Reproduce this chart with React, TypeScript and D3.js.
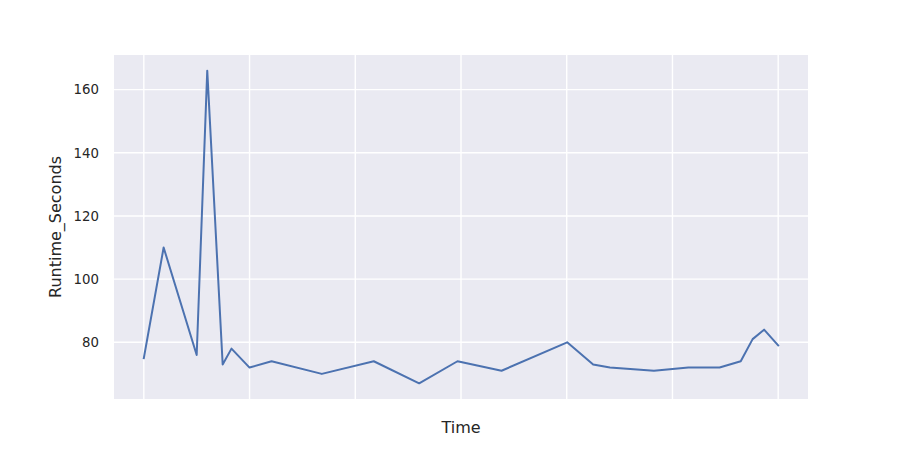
import { useEffect, useRef } from "react";
import * as d3 from "d3";

// hours since start of the run
const times = [
  0, 4.5, 12, 14.4, 17.9, 19.9, 24, 29, 40.4, 52.2, 62.5, 71.2, 81.2, 96.1,
  102, 105.8, 115.8, 123.6, 130.7, 135.5, 138.2, 140.8, 144,
];
const runtimes = [
  75, 110, 76, 166, 73, 78, 72, 74, 70, 74, 67, 74, 71, 80, 73, 72, 71, 72, 72,
  74, 81, 84, 79,
];
const xGridTicks = [0, 24, 48, 72, 96, 120, 144];
const yTicks = [80, 100, 120, 140, 160];

export default function App() {
  const ref = useRef<SVGSVGElement>(null);

  useEffect(() => {
    if (!ref.current) return;
    const svg = d3.select(ref.current);
    svg.selectAll("*").remove();

    const left = 114;
    const right = 808;
    const top = 55;
    const bottom = 399;

    const xExt = d3.extent(times) as [number, number];
    const xPad = (xExt[1] - xExt[0]) * 0.047;
    const yExt = d3.extent(runtimes) as [number, number];
    const yPad = (yExt[1] - yExt[0]) * 0.05;

    const x = d3
      .scaleLinear()
      .domain([xExt[0] - xPad, xExt[1] + xPad])
      .range([left, right]);
    const y = d3
      .scaleLinear()
      .domain([yExt[0] - yPad, yExt[1] + yPad])
      .range([bottom, top]);

    svg
      .append("rect")
      .attr("width", 900)
      .attr("height", 450)
      .attr("fill", "#ffffff");

    // plot background
    svg
      .append("rect")
      .attr("x", left)
      .attr("y", top)
      .attr("width", right - left)
      .attr("height", bottom - top)
      .attr("fill", "#EAEAF2");

    // grid
    svg
      .selectAll(".vgrid")
      .data(xGridTicks)
      .enter()
      .append("line")
      .attr("x1", (d) => x(d))
      .attr("x2", (d) => x(d))
      .attr("y1", top)
      .attr("y2", bottom)
      .attr("stroke", "#ffffff")
      .attr("stroke-width", 1.4);

    svg
      .selectAll(".hgrid")
      .data(yTicks)
      .enter()
      .append("line")
      .attr("x1", left)
      .attr("x2", right)
      .attr("y1", (d) => y(d))
      .attr("y2", (d) => y(d))
      .attr("stroke", "#ffffff")
      .attr("stroke-width", 1.4);

    // y tick labels
    svg
      .selectAll(".ylab")
      .data(yTicks)
      .enter()
      .append("text")
      .attr("x", left - 15)
      .attr("y", (d) => y(d))
      .attr("dy", "0.36em")
      .attr("text-anchor", "end")
      .style("font-family", "DejaVu Sans")
      .style("font-size", "13.3px")
      .style("fill", "#262626")
      .text((d) => d);

    // line
    const line = d3
      .line<number>()
      .x((_, i) => x(times[i]))
      .y((d) => y(d));

    svg
      .append("path")
      .datum(runtimes)
      .attr("d", line)
      .attr("fill", "none")
      .attr("stroke", "#4C72B0")
      .attr("stroke-width", 2)
      .attr("stroke-linejoin", "round")
      .attr("stroke-linecap", "square");

    // axis labels
    svg
      .append("text")
      .attr("x", (left + right) / 2)
      .attr("y", 433)
      .attr("text-anchor", "middle")
      .style("font-family", "DejaVu Sans")
      .style("font-size", "16px")
      .style("fill", "#262626")
      .text("Time");

    svg
      .append("text")
      .attr("transform", `translate(61,${(top + bottom) / 2}) rotate(-90)`)
      .attr("text-anchor", "middle")
      .style("font-family", "DejaVu Sans")
      .style("font-size", "16px")
      .style("fill", "#262626")
      .text("Runtime_Seconds");
  }, []);

  return (
    <svg
      ref={ref}
      width={900}
      height={450}
      style={{ position: "absolute", left: 0, top: 0 }}
    />
  );
}
